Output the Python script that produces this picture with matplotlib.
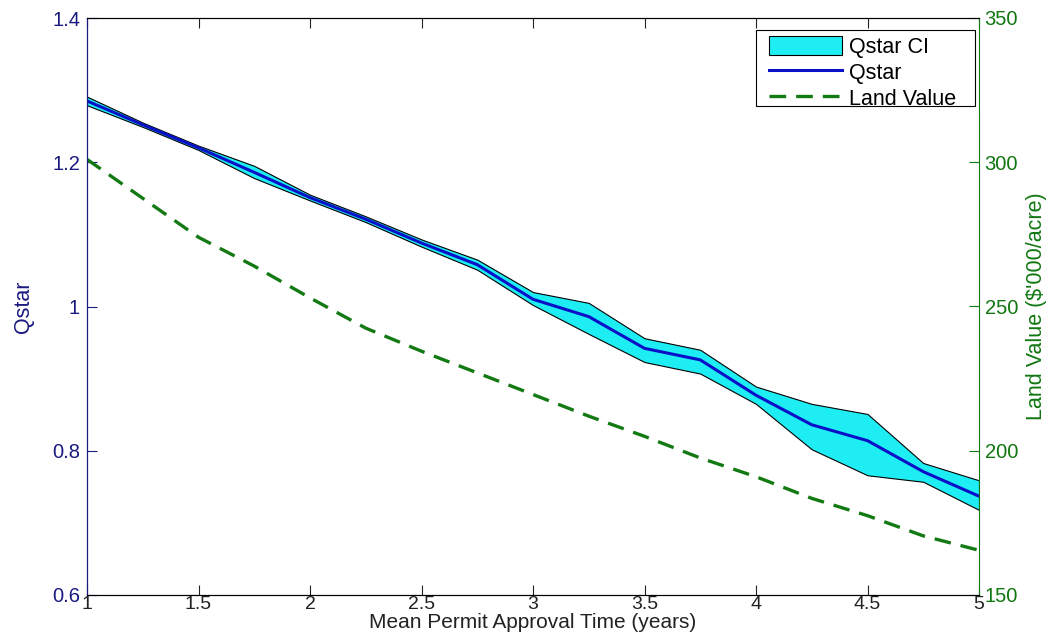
import matplotlib
matplotlib.use("Agg")
import matplotlib.pyplot as plt
from matplotlib.patches import Patch, Rectangle
from matplotlib.lines import Line2D

plt.rcParams["font.family"] = ["Liberation Sans", "DejaVu Sans"]
plt.rcParams["font.size"] = 14.5

# mean permit approval time (years)
approval_time = [1.0, 1.25, 1.5, 1.75, 2.0, 2.25, 2.5, 2.75, 3.0,
                 3.25, 3.5, 3.75, 4.0, 4.25, 4.5, 4.75, 5.0]
qstar = [1.285, 1.252, 1.220, 1.186, 1.151, 1.121, 1.088, 1.058, 1.010,
         0.986, 0.942, 0.926, 0.877, 0.836, 0.814, 0.771, 0.737]
qstar_lo = [1.279, 1.249, 1.217, 1.178, 1.147, 1.117, 1.083, 1.051, 1.002,
            0.962, 0.923, 0.907, 0.865, 0.802, 0.766, 0.757, 0.718]
qstar_hi = [1.291, 1.255, 1.223, 1.195, 1.155, 1.125, 1.093, 1.065, 1.020,
            1.005, 0.956, 0.940, 0.889, 0.865, 0.851, 0.783, 0.759]
land_value = [301, 287.5, 274, 264, 253, 242.5, 234.5, 227, 219.5,
              212, 205, 197.5, 191, 183.5, 177.5, 170.5, 165.5]

blue_axis = "#1a1a80"
green_axis = "#117711"
ci_cyan = "#1eeef3"
q_blue = "#0a10c8"
lv_green = "#137a13"
lv_dash = (0, (5, 3))
W, H = 1058, 636

fig = plt.figure(figsize=(W / 100, H / 100), dpi=100)
ax1 = fig.add_axes([87 / W, 1 - 595 / H, (979 - 87) / W, (595 - 18) / H])
ax2 = ax1.twinx()

ax1.fill_between(approval_time, qstar_lo, qstar_hi, facecolor=ci_cyan,
                 edgecolor="black", linewidth=0.8, zorder=2)
ax1.plot(approval_time, qstar, color=q_blue, linewidth=2.2, zorder=3)
ax2.plot(approval_time, land_value, color=lv_green, linewidth=2.4, linestyle=lv_dash)

ax1.set_xlim(1, 5)
ax1.set_ylim(0.6, 1.4)
ax2.set_ylim(150, 350)
ax1.set_xticks([1, 1.5, 2, 2.5, 3, 3.5, 4, 4.5, 5])
ax1.set_xticklabels(["1", "1.5", "2", "2.5", "3", "3.5", "4", "4.5", "5"])
ax1.set_yticks([0.6, 0.8, 1.0, 1.2, 1.4])
ax1.set_yticklabels(["0.6", "0.8", "1", "1.2", "1.4"])
ax2.set_yticks([150, 200, 250, 300, 350])

ax1.tick_params(axis="x", direction="in", top=True, length=7, pad=0.5,
                labelsize=14, colors="#222222")
ax1.tick_params(axis="y", direction="in", length=7, colors=blue_axis, pad=5)
ax2.tick_params(axis="y", direction="in", length=7, colors=green_axis, pad=4)

ax1.spines["left"].set_color(blue_axis)
ax2.spines["left"].set_color(blue_axis)
ax2.spines["right"].set_color(green_axis)
ax1.spines["right"].set_visible(False)
for sp in ("top", "bottom"):
    ax1.spines[sp].set_color("black")
    ax2.spines[sp].set_color("black")

ax1.set_xlabel("Mean Permit Approval Time (years)", color="#222222",
               fontsize=15, labelpad=0)
ax1.set_ylabel("Qstar", color=blue_axis, fontsize=15.5, labelpad=13)
ax2.set_ylabel("Land Value ($'000/acre)", color=green_axis, fontsize=15.5, labelpad=6)

# legend box drawn as a fixed frame, entries placed inside it
frame = Rectangle((756 / W, 1 - 106 / H), 219 / W, 76 / H, transform=fig.transFigure,
                  facecolor="white", edgecolor="black", linewidth=0.8, zorder=4)
fig.add_artist(frame)

handles = [
    Patch(facecolor=ci_cyan, edgecolor="black", linewidth=0.8),
    Line2D([], [], color=q_blue, linewidth=2.2),
    Line2D([], [], color=lv_green, linewidth=2.4, linestyle=lv_dash),
]
leg = fig.legend(handles, ["Qstar CI", "Qstar", "Land Value"], loc="upper left",
                 bbox_to_anchor=(769 / W, 1 - 36 / H), bbox_transform=fig.transFigure,
                 frameon=False, fontsize=15.5, handlelength=3.4, handleheight=0.95,
                 borderpad=0, borderaxespad=0, labelspacing=0.2, handletextpad=0.3)
leg.set_zorder(5)

fig.savefig("out.png", dpi=100, facecolor="white")
